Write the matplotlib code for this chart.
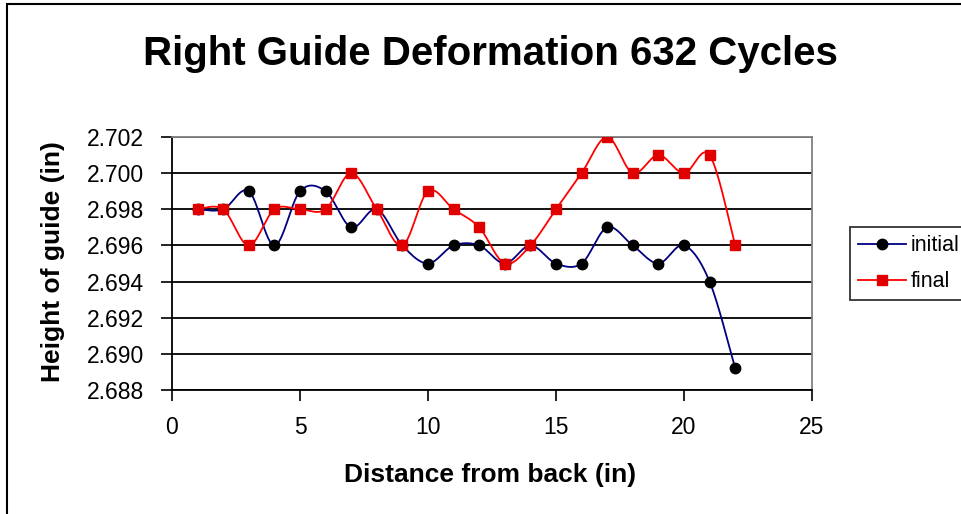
import numpy as np
import matplotlib
matplotlib.use("Agg")
import matplotlib.pyplot as plt
from matplotlib.patches import Rectangle
from matplotlib.lines import Line2D

plt.rcParams['font.family'] = ['Liberation Sans', 'DejaVu Sans']

distance = list(range(1, 23))
initial = [2.698, 2.698, 2.699, 2.696, 2.699, 2.699, 2.697, 2.698, 2.696, 2.695, 2.696,
           2.696, 2.695, 2.696, 2.695, 2.695, 2.697, 2.696, 2.695, 2.696, 2.694, 2.6892]
final = [2.698, 2.698, 2.696, 2.698, 2.698, 2.698, 2.700, 2.698, 2.696, 2.699, 2.698,
         2.697, 2.695, 2.696, 2.698, 2.700, 2.702, 2.700, 2.701, 2.700, 2.701, 2.696]
series_names = ["initial", "final"]
yticks = [2.688, 2.690, 2.692, 2.694, 2.696, 2.698, 2.700, 2.702]
xticks = [0, 5, 10, 15, 20, 25]


def smooth(x, y, n=30):
    x = np.asarray(x, float)
    y = np.asarray(y, float)
    P = np.column_stack([x, y])
    out = [P[0]]
    t = np.linspace(0, 1, n)[1:]
    for i in range(len(P) - 1):
        p0 = P[i - 1] if i > 0 else P[i]
        p1 = P[i]
        p2 = P[i + 1]
        p3 = P[i + 2] if i + 2 < len(P) else P[i + 1]
        c1 = p1 + (p2 - p0) / 6.0
        c2 = p2 - (p3 - p1) / 6.0
        for tt in t:
            b = ((1 - tt) ** 3) * p1 + 3 * ((1 - tt) ** 2) * tt * c1 + 3 * (1 - tt) * tt ** 2 * c2 + tt ** 3 * p2
            out.append(b)
    out = np.array(out)
    return out[:, 0], out[:, 1]


W, H = 961, 514
fig = plt.figure(figsize=(W / 100, H / 100), dpi=100)
fig.patch.set_facecolor('white')

# outer chart border
fig.add_artist(Rectangle((7 / W, -0.1), 1.2, 1 - 4 / H + 0.1, transform=fig.transFigure,
                         fill=False, edgecolor='black', linewidth=1.5))

ax = fig.add_axes([172 / W, 1 - 390 / H, (812 - 172) / W, (390 - 137) / H])
ax.set_xlim(0, 25)
ax.set_ylim(2.688, 2.702)
ax.set_xticks(xticks)
ax.set_yticks(yticks)
ax.set_yticklabels([f"{v:.3f}" for v in yticks])
ax.tick_params(axis='both', direction='out', length=8, width=1.2, labelsize=16.5, colors='black')
ax.tick_params(axis='y', pad=12)
ax.tick_params(axis='x', pad=11)
ax.grid(axis='y', color='black', linewidth=1.3)
ax.set_axisbelow(True)
for s in ['left', 'bottom']:
    ax.spines[s].set_color('black')
    ax.spines[s].set_linewidth(1.3)
for s in ['top', 'right']:
    ax.spines[s].set_color('#808080')
    ax.spines[s].set_linewidth(1.3)

xs, ys = smooth(distance, initial)
ax.plot(xs, ys, color='#000080', linewidth=1.3, zorder=3)
ax.plot(distance, initial, linestyle='none', marker='o', markersize=7.5,
        color='black', zorder=4)
xs, ys = smooth(distance, final)
ax.plot(xs, ys, color='#FF0000', linewidth=1.3, zorder=3)
ax.plot(distance, final, linestyle='none', marker='s', markersize=7,
        color='#E00000', zorder=4)

fig.text(490 / W, 1 - 475 / H, "Distance from back (in)", ha='center', va='center',
         fontsize=19, fontweight='bold')
fig.text(53 / W, 1 - 262 / H, "Height of guide (in)", ha='center', va='center',
         fontsize=19, fontweight='bold', rotation=90)
fig.text(490 / W, 1 - 54 / H, "Right Guide Deformation 632 Cycles", ha='center', va='center',
         fontsize=29, fontweight='bold')

handles = [Line2D([], [], color='#000080', marker='o', markerfacecolor='black',
                  markeredgecolor='black', markersize=7.5, linewidth=1.3),
           Line2D([], [], color='#FF0000', marker='s', markerfacecolor='#E00000',
                  markeredgecolor='#E00000', markersize=7, linewidth=1.3)]
leg = fig.legend(handles, series_names, loc='upper left',
                 bbox_to_anchor=(850 / W, 1 - 227 / H), fontsize=15.5, frameon=True,
                 fancybox=False, edgecolor='black', borderpad=0.38, handlelength=2.2,
                 handletextpad=0.25, labelspacing=0.7, borderaxespad=0)
leg.get_frame().set_linewidth(1.3)

fig.savefig("out.png", dpi=100)
